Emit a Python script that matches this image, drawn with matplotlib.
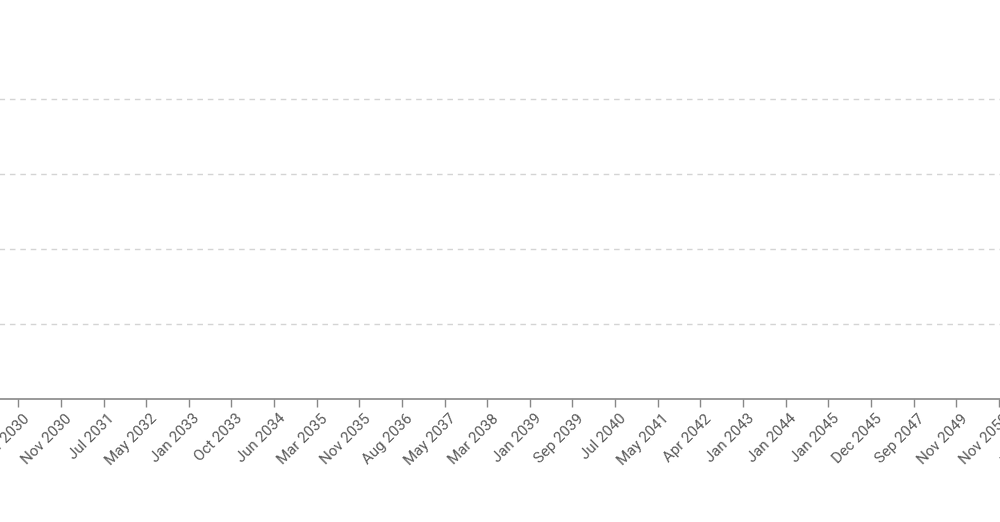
import matplotlib
matplotlib.use("Agg")
import matplotlib.pyplot as plt
import matplotlib.transforms as mtransforms
import numpy as np

# ---- data ----
categories = ["Mar 2030", "Nov 2030", "Jul 2031", "May 2032", "Jan 2033", "Oct 2033",
              "Jun 2034", "Mar 2035", "Nov 2035", "Aug 2036", "May 2037", "Mar 2038",
              "Jan 2039", "Sep 2039", "Jul 2040", "May 2041", "Apr 2042", "Jan 2043",
              "Jan 2044", "Jan 2045", "Dec 2045", "Sep 2047", "Nov 2049", "Nov 2050",
              "May 2052"]
grid_values = [1, 2, 3, 4]

plt.rcParams['font.family'] = ['Roboto', 'DejaVu Sans']

W, H = 1000, 522
fig = plt.figure(figsize=(W / 100, H / 100), dpi=100)

# axes in pixel layout (extends past the figure edges, like a cropped chart)
left_px, right_px = -60, 1060
bottom_px, top_px = 399, -20
ax = fig.add_axes([left_px / W, (H - bottom_px) / H,
                   (right_px - left_px) / W, (bottom_px - top_px) / H])

x0_px, step_px = 18.3, 42.63
ax.set_xlim((left_px - x0_px) / step_px, (right_px - x0_px) / step_px)
ax.set_ylim(0, (bottom_px - top_px) / 75.0)

x = np.arange(len(categories))
ax.set_xticks(x)
ax.set_xticklabels(categories, rotation=45, ha='right', rotation_mode='anchor',
                   fontsize=10.8, color='#5a5a5a')
ax.tick_params(axis='x', length=6, width=1, color='#888888', pad=3)
offset = mtransforms.ScaledTranslation(4 / 100, 0, fig.dpi_scale_trans)
for lab in ax.get_xticklabels():
    lab.set_transform(lab.get_transform() + offset)

ax.set_yticks(grid_values)
ax.set_yticklabels([])
ax.tick_params(axis='y', length=0)
ax.grid(axis='y', color='#d4d4d4', linestyle=(0, (4, 3.5)), linewidth=1)
ax.set_axisbelow(True)

for s in ['top', 'right', 'left']:
    ax.spines[s].set_visible(False)
ax.spines['bottom'].set_color('#888888')
ax.spines['bottom'].set_linewidth(1.2)

fig.savefig('out.png', dpi=100)
